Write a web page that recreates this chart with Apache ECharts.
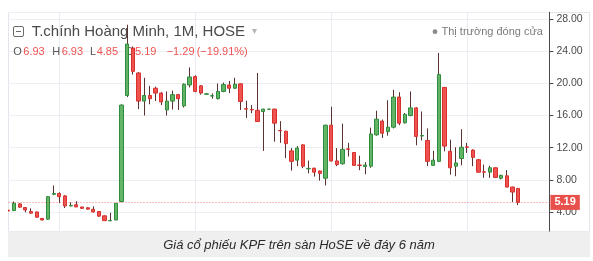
<!DOCTYPE html>
<html><head><meta charset="utf-8">
<script src="https://cdn.jsdelivr.net/npm/echarts@6/dist/echarts.min.js"></script>
<style>html,body{margin:0;padding:0;background:#fff}#c{width:593px;height:261px}</style>
</head><body><div id="c"></div>
<script>
// ---- data (monthly candles, KPF on HOSE) ----
const firstYear = 2015, firstMonth = 4;   // first visible candle
const padMonths = 5;                      // empty space right of last candle
const openVals  = [4.22,4.17,5.0,4.55,4.05,4.0,3.2,3.1,6.2,6.3,6.0,4.75,4.9,4.62,4.52,4.33,4.06,3.52,2.9,3.0,
  5.3,18.5,24.4,21.3,17.8,18.5,19.4,18.8,16.7,17.8,18.6,17.2,19.8,20.85,19.7,18.65,18.42,18.1,19.0,19.8,
  19.4,19.95,16.85,16.75,16.65,16.5,16.78,16.8,14.15,14.05,11.6,10.45,12.35,9.37,9.45,9.1,8.2,14.8,10.35,10.0,
  11.85,11.4,9.85,9.65,9.7,13.6,15.3,14.0,14.55,18.3,15.1,16.0,16.95,13.45,12.9,9.8,10.3,19.5,11.55,9.7,
  10.65,12.1,11.7,10.5,9.0,8.95,9.5,8.2,8.5,7.1,6.93];
const closeVals = [4.12,5.08,4.6,4.25,3.85,3.35,3.0,5.9,6.3,5.9,4.75,4.82,4.63,4.45,4.35,4.0,3.48,2.92,2.95,5.08,
  17.3,24.9,21.5,17.8,18.5,18.1,18.8,17.7,17.8,18.6,18.1,19.9,20.8,19.0,18.8,18.7,18.47,19.0,19.85,19.4,
  19.9,17.75,16.8,16.7,15.25,16.8,16.8,15.05,14.1,12.5,10.3,11.95,9.7,9.42,8.95,8.8,14.8,10.35,9.9,11.8,
  11.8,9.8,9.8,9.85,13.7,15.55,13.8,14.55,18.3,15.05,16.15,16.95,13.4,13.52,10.3,10.45,21.1,12.2,9.5,10.1,
  12.05,12.05,10.8,8.95,8.95,9.5,8.3,8.55,7.1,6.48,5.19];
const lowVals   = [4.1,4.15,4.5,3.95,3.8,3.3,2.95,3.05,6.1,5.1,4.5,4.7,4.6,4.4,4.3,3.95,3.4,2.88,2.85,2.98,
  5.2,18.3,21.1,16.8,16.0,17.4,17.8,17.3,16.0,16.75,16.7,17.0,19.5,18.9,18.6,18.6,18.1,18.0,18.9,18.8,
  19.3,16.7,15.7,16.3,15.2,11.6,16.78,12.75,12.6,10.7,9.15,9.7,9.45,8.8,8.4,7.9,7.3,10.3,9.7,9.9,
  10.9,9.75,9.2,8.7,9.5,13.5,13.2,13.5,14.4,14.8,15.0,15.9,12.3,12.9,9.7,9.75,10.2,11.55,8.65,8.45,
  9.8,11.35,9.7,8.9,8.25,8.25,8.25,8.05,7.05,5.25,4.85];
const highVals  = [4.25,5.3,5.1,4.6,4.45,4.05,3.25,5.95,7.3,6.45,6.1,5.2,5.33,4.65,4.6,4.7,4.1,3.56,3.9,5.1,
  17.4,27.3,24.6,21.4,20.7,19.7,19.6,18.9,19.0,19.1,18.7,20.0,22.0,21.0,19.8,18.8,18.75,20.0,20.1,20.3,
  20.7,20.0,17.85,17.3,21.3,16.85,16.82,16.85,15.3,14.1,11.95,12.2,12.4,10.4,9.5,9.15,14.85,17.1,11.95,15.0,
  12.6,11.45,11.0,10.2,14.5,16.6,15.5,17.9,19.2,18.9,16.3,19.0,17.05,16.5,14.4,11.6,23.8,19.55,13.0,12.05,
  14.3,12.6,11.8,10.6,9.9,9.75,9.55,8.65,9.2,7.15,6.93];
const yMin = 0, yMax = 28.85, yStep = 4;
const titleText = 'T.chính Hoàng Minh, 1M, HOSE';
const statusText = 'Thị trường đóng cửa';
const captionText = 'Giá cổ phiếu KPF trên sàn HoSE về đáy 6 năm';

// ---- derived ----
const n = openVals.length;
const categories = [];
for (let i = 0; i < n + padMonths; i++) {
  const m = (firstMonth - 1 + i) % 12 + 1;
  const y = firstYear + Math.floor((firstMonth - 1 + i) / 12);
  categories.push((m < 10 ? '0' : '') + m + '/' + y);
}
const wickData = openVals.map((o, i) => [o, closeVals[i], lowVals[i], highVals[i]]);
const bodyData = openVals.map((o, i) => [o, closeVals[i], Math.min(o, closeVals[i]), Math.max(o, closeVals[i])]);
const L = n - 1;
const prevClose = closeVals[L - 1];
const chg = closeVals[L] - prevClose;
const pct = chg / prevClose * 100;
const fmt = v => (v < 0 ? '\u2212' : '') + Math.abs(v).toFixed(2);

const RED = '#ef5350', RED_B = '#d8302d', GREEN = '#62b566', GREEN_B = '#2f8c3c', WICK = '#5a3232';
const FONT = '"Liberation Sans", Arial, sans-serif';

function txt(x, y, text, size, fill, extra, z) {
  return {type: 'text', x: x, y: y, z: z == null ? 1 : z, silent: true,
    style: Object.assign({text: text, fontSize: size, fontFamily: FONT, fill: fill, align: 'left', verticalAlign: 'middle'}, extra || {})};
}

const chart = echarts.init(document.getElementById('c'));
chart.setOption({
  animation: false,
  grid: {left: 5.5, right: 43.6, top: 12.3, bottom: 16.9, containLabel: false},
  xAxis: {
    type: 'category', data: categories, boundaryGap: true,
    axisLine: {show: false}, axisTick: {show: false, alignWithLabel: true}, axisLabel: {show: false},
    splitLine: {show: true, alignWithLabel: true, interval: (i) => i % 24 === 9, lineStyle: {color: '#e9ecf2', width: 1}}
  },
  yAxis: {
    type: 'value', position: 'right', min: yMin, max: yMax, interval: yStep, scale: true,
    axisLine: {show: true, lineStyle: {color: '#4a4a4a', width: 1}},
    axisTick: {show: true, length: 4, lineStyle: {color: '#4a4a4a'}},
    axisLabel: {margin: 7, color: '#4a4a4a', fontSize: 10.5, fontFamily: FONT, showMaxLabel: false, showMinLabel: false,
      formatter: v => v.toFixed(2)},
    splitLine: {show: true, lineStyle: {color: '#eceff4', width: 1}}
  },
  series: [
    {
      type: 'candlestick', name: 'wick', data: wickData, barWidth: 1, z: 2, silent: true,
      itemStyle: {color: WICK, color0: WICK, borderColor: WICK, borderColor0: WICK, borderWidth: 1},
      markLine: {
        silent: true, symbol: ['none', 'none'], animation: false,
        lineStyle: {color: 'rgba(239,83,80,0.75)', type: [1, 2], width: 1},
        label: {show: true, position: 'end', distance: 1, formatter: () => closeVals[L].toFixed(2),
          backgroundColor: '#e8504b', color: '#fff', fontSize: 11, fontWeight: 'bold', fontFamily: FONT,
          padding: [2, 4, 2, 4], lineHeight: 11},
        data: [{yAxis: closeVals[L]}]
      }
    },
    {
      type: 'candlestick', name: 'body', data: bodyData, barWidth: 3.8, z: 3, silent: true,
      itemStyle: {color: GREEN, color0: RED, borderColor: GREEN_B, borderColor0: RED_B, borderWidth: 1}
    }
  ],
  graphic: [
    {type: 'rect', z: -1, silent: true, shape: {x: 8.5, y: 12.5, width: 581, height: 219},
      style: {fill: 'none', stroke: '#e2e5eb', lineWidth: 1}},
    // left clip of the panel
    {type: 'rect', z: 100, silent: true, shape: {x: 0, y: 0, width: 8, height: 261}, style: {fill: '#fff'}},
    // caption box
    {type: 'rect', z: 100, silent: true, shape: {x: 8, y: 231.5, width: 582, height: 26}, style: {fill: '#efefef'}},
    {type: 'rect', z: 100, silent: true, shape: {x: 8, y: 257.5, width: 585, height: 4}, style: {fill: '#fff'}},
    txt(299, 245, captionText, 13, '#2a2a2a', {align: 'center', fontStyle: 'italic'}, 101),
    // header icon
    {type: 'rect', z: 1, silent: true, shape: {x: 13.5, y: 26.5, width: 10, height: 10, r: 1.5},
      style: {fill: 'none', stroke: '#6a6a6a', lineWidth: 1}},
    {type: 'line', z: 1, silent: true, shape: {x1: 16, y1: 31.5, x2: 21, y2: 31.5}, style: {stroke: '#6a6a6a', lineWidth: 1}},
    txt(31.7, 31.5, titleText, 15, '#4a4a4a'),
    txt(252, 31, '\u25BE', 10, '#b5b5b5'),
    // status
    {type: 'circle', z: 1, silent: true, shape: {cx: 435, cy: 31.7, r: 2.4}, style: {fill: '#8a8a8a'}},
    txt(441.5, 31.7, statusText, 11, '#7a7a7a'),
    // OHLC line
    txt(13.3, 51.7, 'O', 11, '#555'),
    txt(23.3, 51.7, openVals[L].toFixed(2), 11, RED),
    txt(52.3, 51.7, 'H', 11, '#555'),
    txt(61.7, 51.7, highVals[L].toFixed(2), 11, RED),
    txt(90, 51.7, 'L', 11, '#555'),
    txt(96.7, 51.7, lowVals[L].toFixed(2), 11, RED),
    txt(125, 51.7, 'C', 11, '#555'),
    txt(135, 51.7, closeVals[L].toFixed(2), 11, RED),
    txt(166.7, 51.7, fmt(chg), 11, RED),
    txt(196.7, 51.7, '(' + fmt(pct) + '%)', 11, RED)
  ]
});
</script></body></html>
